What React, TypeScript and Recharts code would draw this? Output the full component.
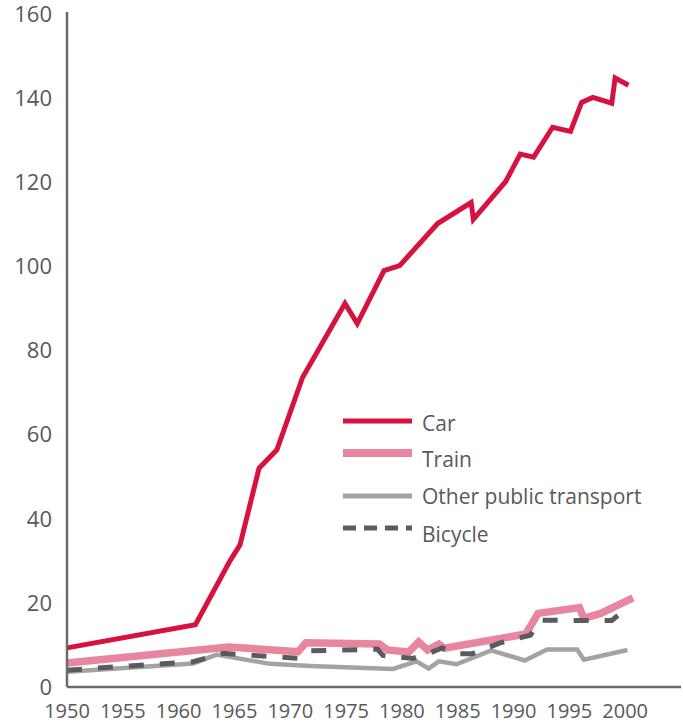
import React from 'react';
import { LineChart, Line, XAxis, YAxis } from 'recharts';

// values (years are approximate, some fall between whole years)
const carYears = [1950, 1961.5, 1964.6, 1965.5, 1967.2, 1968.8, 1971.1, 1974.9, 1976.0, 1978.4, 1979.8, 1983.2, 1986.2, 1986.4, 1989.3, 1990.6, 1991.8, 1993.5, 1995.1, 1996.1, 1997.1, 1998.8, 1999.1, 2000.3];
const carValues = [9.3, 14.8, 30, 33.8, 52, 56.4, 73.6, 91.2, 86.4, 99, 100.2, 110.2, 115.2, 111.2, 120.2, 126.7, 126, 133.1, 132.1, 139, 140.2, 138.8, 144.8, 143.1];

const trainYears = [1950, 1964.5, 1970.7, 1971.4, 1978.0, 1978.7, 1980.6, 1981.5, 1982.3, 1983.3, 1983.8, 1991.1, 1992.2, 1995.9, 1996.3, 1997.8, 2000.7];
const trainValues = [5.7, 9.5, 8.4, 10.5, 10.2, 8.8, 8.3, 10.7, 8.8, 10.2, 9.2, 12.6, 17.5, 18.9, 16.3, 17.5, 21.2];

const otherYears = [1950, 1961.3, 1963.4, 1968.2, 1971.8, 1979.2, 1981.3, 1982.4, 1983.3, 1984.9, 1988.0, 1991.0, 1993.0, 1995.7, 1996.3, 2000.2];
const otherValues = [3.6, 5.6, 7.7, 5.5, 5.0, 4.3, 6.1, 4.4, 6.1, 5.4, 8.7, 6.3, 8.9, 8.9, 6.5, 8.8];

const bicycleYears = [1950, 1961.3, 1964.0, 1970.7, 1971.8, 1977.8, 1978.3, 1981.0, 1982.5, 1983.6, 1985.0, 1986.3, 1988.8, 1991.5, 1992.5, 1996.2, 1998.8, 2000.4];
const bicycleValues = [4.0, 6.0, 8.0, 6.8, 8.6, 9.0, 7.5, 6.8, 8.1, 9.3, 7.9, 7.9, 10.5, 12.3, 15.9, 15.8, 15.8, 19.3];

const xTicks = [1950, 1955, 1960, 1965, 1970, 1975, 1980, 1985, 1990, 1995, 2000];
const yTicks = [0, 20, 40, 60, 80, 100, 120, 140, 160];

const toPoints = (years: number[], values: number[]) =>
  years.map((year, i) => ({ year, value: values[i] }));

const carData = toPoints(carYears, carValues);
const trainData = toPoints(trainYears, trainValues);
const otherData = toPoints(otherYears, otherValues);
const bicycleData = toPoints(bicycleYears, bicycleValues);

const textColor = '#58595b';
const font = '"Open Sans", sans-serif';

const legendItems = [
  { name: 'Car', color: '#d6123f', width: 5, dash: undefined, lineY: 19, textY: 22 },
  { name: 'Train', color: '#e8869f', width: 8, dash: undefined, lineY: 51, textY: 58 },
  { name: 'Other public transport', color: '#a3a3a3', width: 5, dash: undefined, lineY: 94, textY: 95 },
  { name: 'Bicycle', color: '#5b5b5d', width: 5, dash: '13 8', lineY: 126, textY: 133 },
];

function ChartLegend() {
  return (
    <svg width={330} height={150} style={{ display: 'block', overflow: 'visible' }}>
      {legendItems.map((item) => (
        <g key={item.name}>
          <line
            x1={0}
            x2={69}
            y1={item.lineY}
            y2={item.lineY}
            stroke={item.color}
            strokeWidth={item.width}
            strokeDasharray={item.dash}
          />
          <text x={79} y={item.textY} dy="0.35em" fill={textColor} fontSize={21} fontFamily={font}>
            {item.name}
          </text>
        </g>
      ))}
    </svg>
  );
}

export default function App() {
  return (
    <div style={{ position: 'absolute', left: 0, top: 0, width: 683, height: 726, background: '#fff' }}>
      <LineChart width={683} height={726} margin={{ top: 12, right: 2, bottom: 0, left: 0 }}>
        <XAxis
          dataKey="year"
          type="number"
          domain={[1950, 2005]}
          ticks={xTicks}
          allowDuplicatedCategory={false}
          axisLine={{ stroke: '#6b6b6b', strokeWidth: 2.5 }}
          tickLine={false}
          tickSize={0}
          tickMargin={17}
          height={39}
          tick={{ fill: textColor, fontSize: 20, fontFamily: font }}
        />
        <YAxis
          type="number"
          domain={[0, 160.5]}
          ticks={yTicks}
          width={67}
          axisLine={{ stroke: '#6b6b6b', strokeWidth: 2.5 }}
          tickLine={false}
          tickSize={0}
          tickMargin={15}
          tick={{ fill: textColor, fontSize: 22, fontFamily: font }}
        />
        <Line data={otherData} dataKey="value" name="Other public transport" type="linear" stroke="#a3a3a3" strokeWidth={4.5} dot={false} isAnimationActive={false} />
        <Line data={trainData} dataKey="value" name="Train" type="linear" stroke="#e8869f" strokeWidth={7.5} dot={false} isAnimationActive={false} />
        <Line data={bicycleData} dataKey="value" name="Bicycle" type="linear" stroke="#5b5b5d" strokeWidth={5} strokeDasharray="15 16" dot={false} isAnimationActive={false} />
        <Line data={carData} dataKey="value" name="Car" type="linear" stroke="#d6123f" strokeWidth={5} dot={false} isAnimationActive={false} />
      </LineChart>
      <div style={{ position: 'absolute', left: 343, top: 402 }}>
        <ChartLegend />
      </div>
    </div>
  );
}
